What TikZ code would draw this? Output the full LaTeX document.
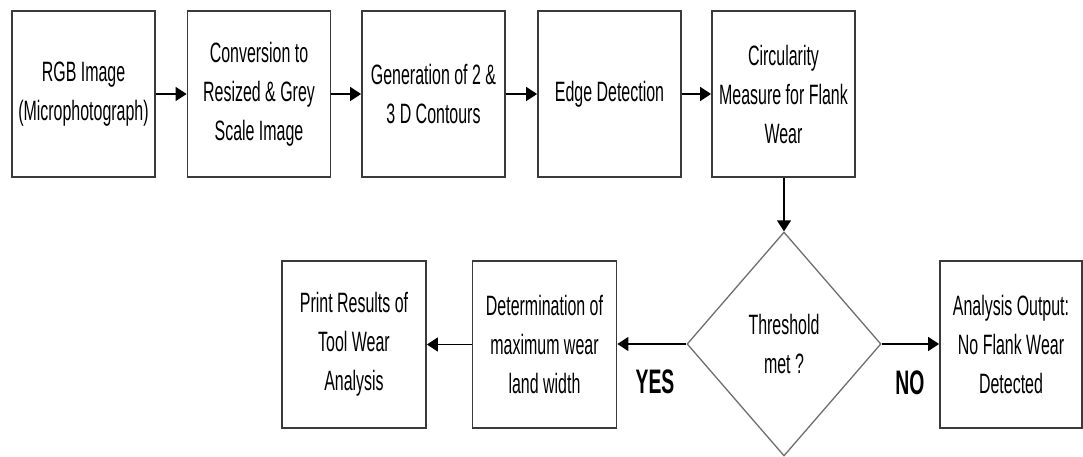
\documentclass[tikz,border=0pt]{standalone}
\usepackage{fontspec}
\setmainfont{Liberation Sans}[FakeStretch=0.57]
\usetikzlibrary{shapes.geometric,arrows.meta}
\definecolor{boxgray}{HTML}{3A3A3A}
\definecolor{diagray}{HTML}{6E6E6E}
\begin{document}
\begin{tikzpicture}[x=1pt,y=-1pt,
  box/.style={draw=boxgray, line width=1.8pt, minimum width=143pt, minimum height=166pt, inner sep=0pt, align=center, font=\fontsize{28}{39}\selectfont},
  dia/.style={draw=diagray, line width=1.3pt, shape=diamond, minimum width=194pt, minimum height=224pt, inner sep=0pt, align=center, font=\fontsize{28}{39}\selectfont},
  arr/.style={-{Triangle[length=11pt,width=14pt]}, line width=1.4pt},
  lbl/.style={font=\fontsize{34}{40}\selectfont\bfseries, inner sep=0pt}]
\useasboundingbox (0,0) rectangle (1083,457);
\node[box] (b1) at (83.5,94) {RGB Image\\(Microphotograph)};
\node[box] (b2) at (259,94) {Conversion to\\Resized \& Grey\\Scale Image};
\node[box] (b3) at (433.5,94) {Generation of 2 \&\\3 D Contours};
\node[box] (b4) at (609.5,94) {Edge Detection};
\node[box] (b5) at (783.5,94) {Circularity\\Measure for Flank\\Wear};
\node[dia] (d) at (784,344) {Threshold\\met ?};
\node[box, minimum width=144pt, minimum height=167pt] (det) at (544.5,344.5) {Determination of\\maximum wear\\land width};
\node[box, minimum width=144pt, minimum height=167pt] (pr) at (354,344.5) {Print Results of\\Tool Wear\\Analysis};
\node[box, minimum width=142pt, minimum height=167pt] (an) at (1011,344.5) {Analysis Output:\\No Flank Wear\\Detected};
\draw[arr] (b1) -- (b2);
\draw[arr] (b2) -- (b3);
\draw[arr] (b3) -- (b4);
\draw[arr] (b4) -- (b5);
\draw[arr] (b5.south -| d.north) -- (d.north);
\draw[arr] (d.west) -- (det.east |- d.west);
\draw[arr] (det) -- (pr);
\draw[arr] (d.east) -- (an.west |- d.east);
\node[lbl] (yes) at (655,382) {YES};
\node[lbl] (no) at (910,383) {NO};
\end{tikzpicture}
\end{document}
